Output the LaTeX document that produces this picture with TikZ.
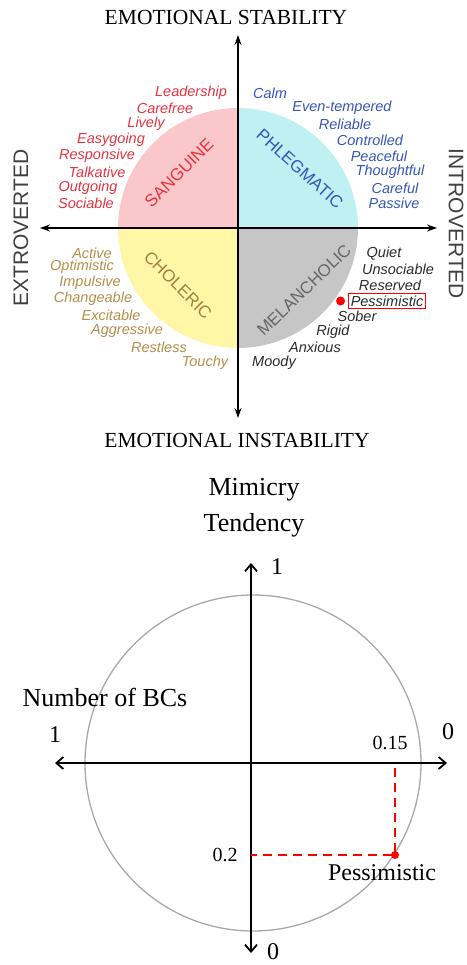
\documentclass[tikz,border=0pt]{standalone}
\usepackage{fontspec}
\setmainfont{Liberation Serif}
\setsansfont{Liberation Sans}
\usetikzlibrary{arrows.meta}
\usetikzlibrary{positioning}

\definecolor{sangfill}{HTML}{FAC8CB}
\definecolor{phlefill}{HTML}{BFF1F2}
\definecolor{cholfill}{HTML}{FFF6A6}
\definecolor{melafill}{HTML}{C6C6C6}
\definecolor{sangtext}{HTML}{E3333F}
\definecolor{phletext}{HTML}{3656B8}
\definecolor{choltext}{HTML}{B48E4A}
\definecolor{melatext}{HTML}{2B2B2B}
\definecolor{ringgray}{HTML}{A8A8A8}

\tikzset{
  fourax/.style={line width=1.6pt, {Stealth[length=10pt,width=7pt]}-{Stealth[length=10pt,width=7pt]}},
  mimax/.style={line width=1.8pt, {Straight Barb[length=7pt,width=12pt]}-{Straight Barb[length=7pt,width=12pt]}},
  trait/.style={font=\sffamily\itshape\fontsize{14.5}{14.5}\selectfont, inner sep=0pt},
  temper/.style={font=\sffamily\fontsize{17}{17}\selectfont, inner sep=0pt},
  sidelab/.style={font=\sffamily\fontsize{21}{21}\selectfont, text=black!75, inner sep=0pt},
  axtitle/.style={font=\fontsize{21.5}{21.5}\selectfont, inner sep=0pt},
  bigser/.style={font=\fontsize{26}{36}\selectfont, inner sep=0pt},
  tickser/.style={font=\fontsize{20}{20}\selectfont, inner sep=0pt},
}

\begin{document}
\begin{tikzpicture}[x=1pt,y=-1pt]
    \useasboundingbox (0,0) rectangle (466,965);

    % temperament wheel
    \coordinate (c) at (238,228);
    \fill[sangfill] (c) -- ++(-120,0) arc[start angle=180, end angle=270, radius=120] -- cycle;
    \fill[phlefill] (c) -- ++(0,-120) arc[start angle=270, end angle=360, radius=120] -- cycle;
    \fill[melafill] (c) -- ++(120,0) arc[start angle=0, end angle=90, radius=120] -- cycle;
    \fill[cholfill] (c) -- ++(0,120) arc[start angle=90, end angle=180, radius=120] -- cycle;

    \node[temper, text=sangtext, rotate=45] (sang) at (179,173) {SANGUINE};
    \node[temper, text=phletext, rotate=-42] (phle) at (300,169) {PHLEGMATIC};
    \node[temper, text=choltext!90!black, rotate=-45] (chol) at (178,285) {CHOLERIC};
    \node[temper, text=black!60, rotate=44] (mela) at (304,290) {MELANCHOLIC};

    \coordinate (stab) at (238,35);
    \coordinate (inst) at (238,418);
    \coordinate (extr) at (40,228);
    \coordinate (intr) at (437,228);
    \draw[fourax] (inst) -- (stab);
    \draw[fourax] (extr) -- (intr);

    \node[axtitle] (stabtxt) at (226,17) {EMOTIONAL STABILITY};
    \node[axtitle] (insttxt) at (237,440) {EMOTIONAL INSTABILITY};
    \node[sidelab, rotate=90] (extrtxt) at (21,228) {EXTROVERTED};
    \node[sidelab, rotate=-90] (intrtxt) at (456,224) {INTROVERTED};

    \foreach \w/\x/\y [count=\i] in {Leadership/191/93, Carefree/165/108, Lively/146/124,
        Easygoing/111/140, Responsive/97/156, Talkative/97/172, Outgoing/88/188, Sociable/86/203}
        \node[trait, text=sangtext] (sw\i) at (\x,\y) {\w};
    \foreach \w/\x/\y [count=\i] in {Calm/270/93, Even-tempered/342/108, Reliable/345/124,
        Controlled/370/140, Peaceful/379/156, Thoughtful/390/172, Careful/395/188, Passive/394/203}
        \node[trait, text=phletext] (pw\i) at (\x,\y) {\w};
    \foreach \w/\x/\y [count=\i] in {Active/92/253, Optimistic/82/267, Impulsive/90/283,
        Changeable/93/299, Excitable/111/315, Aggressive/127/331, Restless/159/347, Touchy/205/363}
        \node[trait, text=choltext] (cw\i) at (\x,\y) {\w};
    \foreach \w/\x/\y [count=\i] in {Quiet/384/254, Unsociable/398/269, Reserved/390/285,
        Sober/357/316, Rigid/333/332, Anxious/315/347, Moody/274/363}
        \node[trait, text=melatext] (mw\i) at (\x,\y) {\w};

    \node[trait, text=melatext, draw=red, line width=1pt, inner xsep=2pt, inner ysep=2pt] (pess) at (387,301) {Pessimistic};
    \node[circle, fill=red, inner sep=0pt, minimum size=9pt, left=3pt of pess] (pessdot) {};

    % mimicry plane
    \coordinate (o) at (253,763);
    \draw[ringgray, line width=1.3pt] (o) circle[radius=168];

    \coordinate (mtop) at (251,563);
    \coordinate (mbot) at (251,953);
    \coordinate (mleft) at (55,763);
    \coordinate (mright) at (447,763);
    \draw[mimax] (mbot) -- (mtop);
    \draw[mimax] (mleft) -- (mright);

    \node[bigser, align=center] (mimic) at (254,508) {Mimicry\\Tendency};
    \node[bigser] (nbc) at (105,697) {Number of BCs};
    \node[tickser, font=\fontsize{24}{24}\selectfont] (one1) at (277,567) {1};
    \node[tickser, font=\fontsize{24}{24}\selectfont] (zero1) at (273,952) {0};
    \node[tickser, font=\fontsize{24}{24}\selectfont] (one2) at (55,735) {1};
    \node[tickser, font=\fontsize{24}{24}\selectfont] (zero2) at (448,732) {0};

    \node[circle, fill=red, inner sep=0pt, minimum size=8pt] (pdot) at (395,855) {};
    \coordinate (t15) at (395,768);
    \coordinate (t2) at (251,855);
    \draw[red, line width=1.5pt, dash pattern=on 9pt off 6pt] (t15) -- (pdot.center) -- (t2);

    \node[tickser] (lab15) at (390,743) {0.15};
    \node[tickser] (lab2) at (225,855) {0.2};
    \node[bigser, font=\fontsize{24}{24}\selectfont] (plab) at (382,873) {Pessimistic};
\end{tikzpicture}
\end{document}
